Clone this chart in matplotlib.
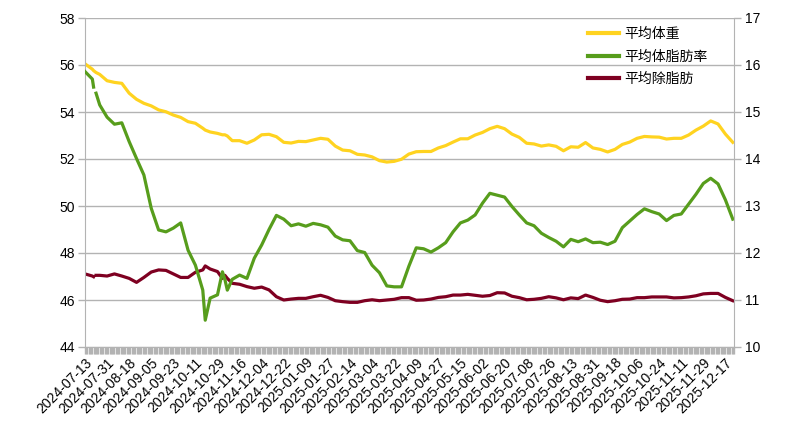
import numpy as np
import pandas as pd
import matplotlib
matplotlib.use("Agg")
import matplotlib.pyplot as plt
import matplotlib.dates as mdates
from matplotlib.ticker import FixedLocator, MultipleLocator

start_date = "2024-07-13"
# day offsets from start date
days = [0, 6, 7, 8, 9, 12, 18, 24, 30, 36, 42, 48, 54, 60, 66, 72, 78, 84, 90, 96, 98,
        102, 108, 112, 114, 116, 120, 126, 132, 138, 144, 150, 156, 162, 168, 174, 180,
        186, 192, 198, 204, 210, 216, 222, 228, 234, 240, 246, 252, 258, 264, 270, 276,
        282, 288, 294, 300, 306, 312, 318, 324, 330, 336, 342, 348, 354, 360, 366, 372,
        378, 384, 390, 396, 402, 408, 414, 420, 426, 432, 438, 444, 450, 456, 462, 468,
        474, 480, 486, 492, 498, 504, 510, 516, 522, 528]

weight = [56.05, 55.82, 55.76, 55.72, 55.68, 55.60, 55.33, 55.26, 55.22, 54.80, 54.54,
          54.37, 54.26, 54.09, 54.01, 53.87, 53.77, 53.59, 53.52, 53.31, 53.23,
          53.15, 53.09, 53.03, 53.03, 52.98, 52.78, 52.78, 52.67, 52.81, 53.03, 53.05,
          52.95, 52.71, 52.68, 52.75, 52.74, 52.81, 52.88, 52.84, 52.55, 52.38, 52.35,
          52.20, 52.17, 52.09, 51.93, 51.87, 51.90, 51.99, 52.21, 52.31, 52.32, 52.32,
          52.47, 52.57, 52.72, 52.86, 52.86, 53.02, 53.13, 53.29, 53.39, 53.29, 53.06,
          52.92, 52.67, 52.64, 52.55, 52.60, 52.54, 52.35, 52.52, 52.50, 52.70, 52.47,
          52.41, 52.30, 52.41, 52.62, 52.72, 52.88, 52.96, 52.94, 52.93, 52.85, 52.88,
          52.88, 53.02, 53.23, 53.40, 53.62, 53.49, 53.06, 52.71]

body_fat = [15.86, 15.70, 15.53, np.nan, 15.40, 15.15, 14.89, 14.74, 14.77, 14.37, 14.01,
            13.66, 12.95, 12.49, 12.45, 12.53, 12.64, 12.06, 11.74, 11.21, 10.57,
            11.04, 11.11, 11.60, 11.44, 11.21, 11.44, 11.53, 11.46, 11.89, 12.17, 12.50,
            12.80, 12.72, 12.58, 12.62, 12.57, 12.63, 12.60, 12.55, 12.36, 12.28, 12.26,
            12.05, 12.01, 11.74, 11.58, 11.30, 11.28, 11.28, 11.72, 12.11, 12.09, 12.02,
            12.11, 12.22, 12.45, 12.64, 12.70, 12.81, 13.06, 13.27, 13.23, 13.19, 12.99,
            12.81, 12.64, 12.58, 12.42, 12.33, 12.25, 12.13, 12.29, 12.24, 12.30, 12.22,
            12.23, 12.18, 12.25, 12.54, 12.68, 12.82, 12.94, 12.88, 12.83, 12.69, 12.80,
            12.83, 13.04, 13.25, 13.48, 13.59, 13.47, 13.13, 12.72]

fat_free = [47.11, 47.02, 46.99, np.nan, 47.05, 47.05, 47.02, 47.11, 47.02, 46.92, 46.75,
            46.96, 47.19, 47.28, 47.26, 47.11, 46.96, 46.96, 47.18, 47.28, 47.45,
            47.32, 47.21, 46.92, 47.05, 46.92, 46.71, 46.67, 46.57, 46.50, 46.55, 46.43,
            46.14, 46.00, 46.04, 46.07, 46.07, 46.14, 46.20, 46.11, 45.97, 45.93, 45.90,
            45.90, 45.97, 46.01, 45.97, 46.00, 46.03, 46.10, 46.10, 45.99, 46.00, 46.04,
            46.11, 46.14, 46.21, 46.21, 46.24, 46.20, 46.16, 46.19, 46.31, 46.30, 46.16,
            46.10, 46.01, 46.03, 46.07, 46.14, 46.09, 46.01, 46.09, 46.06, 46.21, 46.11,
            45.99, 45.93, 45.97, 46.03, 46.04, 46.10, 46.10, 46.13, 46.13, 46.13, 46.09,
            46.10, 46.13, 46.18, 46.26, 46.28, 46.28, 46.11, 45.97]

labels = ["平均体重", "平均体脂肪率", "平均除脂肪"]
colors = ["#ffd320", "#579d1c", "#7e0021"]

t0 = pd.Timestamp(start_date)
dates = [t0 + pd.Timedelta(days=d) for d in days]

plt.rcParams['font.family'] = ['Liberation Sans', 'DejaVu Sans']

fig = plt.figure(figsize=(7.93, 4.46), dpi=100)
ax = fig.add_axes([85/793, 1-347/446, (734-85)/793, (347-18)/446])
ax2 = ax.twinx()

grid_c = "#b3b3b3"
lw = 2.3
l1, = ax.plot(dates, weight, color=colors[0], lw=lw, label=labels[0], solid_joinstyle='round')
l3, = ax.plot(dates, fat_free, color=colors[2], lw=lw, label=labels[2], solid_joinstyle='round')
l2, = ax2.plot(dates, body_fat, color=colors[1], lw=lw, label=labels[1], solid_joinstyle='round')

ax.set_ylim(44, 58)
ax2.set_ylim(10, 17)
ax.yaxis.set_major_locator(MultipleLocator(2))
ax2.yaxis.set_major_locator(MultipleLocator(1))
ax.set_xlim(t0, t0 + pd.Timedelta(days=529))

tick_dates = [t0 + pd.Timedelta(days=18 * i) for i in range(30)]
ax.xaxis.set_major_locator(FixedLocator(mdates.date2num(tick_dates)))
ax.xaxis.set_major_formatter(mdates.DateFormatter('%Y-%m-%d'))
ax.xaxis.set_minor_locator(mdates.DayLocator(interval=1))

ax.grid(axis='y', color=grid_c, lw=1.0)
ax.set_axisbelow(True)

for a in (ax, ax2):
    for s in a.spines.values():
        s.set_visible(False)
ax.spines['left'].set_visible(True)
ax.spines['left'].set_color(grid_c)
ax.spines['bottom'].set_visible(True)
ax.spines['bottom'].set_color(grid_c)
ax2.spines['right'].set_visible(True)
ax2.spines['right'].set_color(grid_c)

ax.tick_params(axis='y', colors=grid_c, labelcolor='black', labelsize=10, length=5, width=1, pad=2)
ax2.tick_params(axis='y', colors=grid_c, labelcolor='black', labelsize=10, length=5, width=1, pad=3)
ax.tick_params(axis='x', which='major', colors=grid_c, labelcolor='black', labelsize=10, length=5, width=1, pad=1)
ax.tick_params(axis='x', which='minor', colors=grid_c, length=5, width=1.0)
for lab in ax.get_xticklabels():
    lab.set_rotation(45)
    lab.set_ha('right')
    lab.set_rotation_mode('anchor')

leg = fig.legend([l1, l2, l3], labels, loc='upper left',
                 bbox_to_anchor=(588/793, 1-27/446), frameon=False,
                 prop={'family': ['Noto Sans CJK SC', 'DejaVu Sans'], 'size': 10},
                 handlelength=2.2, handletextpad=0.4, labelspacing=0.62, borderpad=0,
                 borderaxespad=0)
for h in leg.get_lines():
    h.set_linewidth(3)

fig.savefig("out.png", dpi=100)
